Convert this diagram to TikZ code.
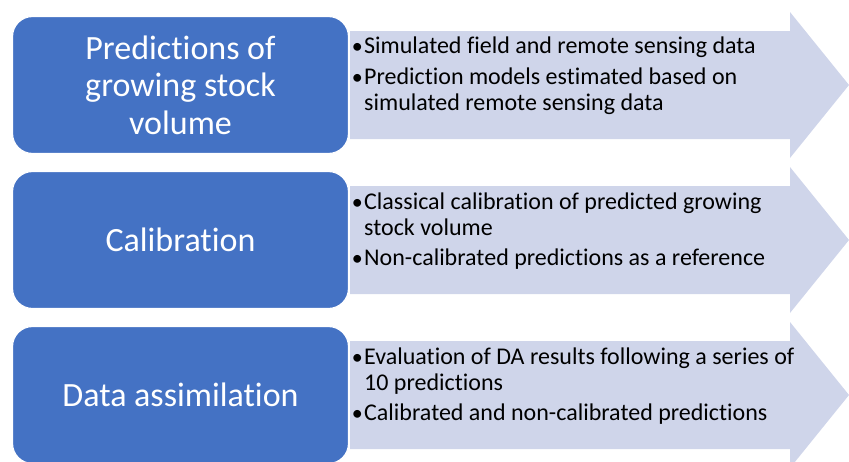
\documentclass[tikz,border=0pt]{standalone}
\usepackage{fontspec}
\setmainfont{Carlito}[Ligatures=NoCommon]
\usepackage{tikz}
\definecolor{stageblue}{RGB}{68,114,196}
\definecolor{arrowfill}{RGB}{207,213,234}

\begin{document}
\begin{tikzpicture}[
			x=1pt, y=-1pt,
			stage/.style = {draw=white, line width=1.2pt, fill=stageblue, rounded corners=20pt,
				minimum width=336pt, minimum height=137pt, align=center, text=white,
				font=\fontsize{34}{37.5}\selectfont},
			item/.style = {anchor=base west, inner sep=0pt, font=\fontsize{24}{26}\selectfont},
			dot/.style = {anchor=base east, inner sep=0pt, font=\fontsize{22}{26}\selectfont}
		]
		\useasboundingbox (0,0) rectangle (849,461);
		% Draw the arrows behind the stages.
		\fill[arrowfill] (350,31) -- (790,31) -- (790,12) -- (849,85) -- (790,158) -- (790,139) -- (350,139) -- cycle;
		\fill[arrowfill] (350,186) -- (790,186) -- (790,167) -- (849,240) -- (790,313) -- (790,294) -- (350,294) -- cycle;
		\fill[arrowfill] (350,341) -- (790,341) -- (790,322) -- (849,395) -- (790,468) -- (790,449) -- (350,449) -- cycle;
		% Draw the stages.
		\node[stage] (pred) at (180.5,85) {Predictions of\\growing stock\\volume};
		\node[stage] (calib) at (180.5,240) {Calibration};
		\node[stage] (assim) at (180.5,395) {Data assimilation};
		% Draw the bullets of the prediction stage.
		\node[dot] (d11) at (363,53) {•};
		\node[item] (p11) at (364,53) {Simulated field and remote sensing data};
		\node[dot] (d12) at (363,84) {•};
		\node[item] (p12) at (364,84) {Prediction models estimated based on};
		\node[item] (p13) at (364,110) {simulated remote sensing data};
		% Draw the bullets of the calibration stage.
		\node[dot] (d21) at (363,209) {•};
		\node[item] (p21) at (364,209) {Classical calibration of predicted growing};
		\node[item] (p22) at (364,235) {stock volume};
		\node[dot] (d22) at (363,265) {•};
		\node[item] (p23) at (364,265) {Non-calibrated predictions as a reference};
		% Draw the bullets of the assimilation stage.
		\node[dot] (d31) at (363,364) {•};
		\node[item] (p31) at (364,364) {Evaluation of DA results following a series of};
		\node[item] (p32) at (364,390) {10 predictions};
		\node[dot] (d32) at (363,420) {•};
		\node[item] (p33) at (364,420) {Calibrated and non-calibrated predictions};
	\end{tikzpicture}
\end{document}
